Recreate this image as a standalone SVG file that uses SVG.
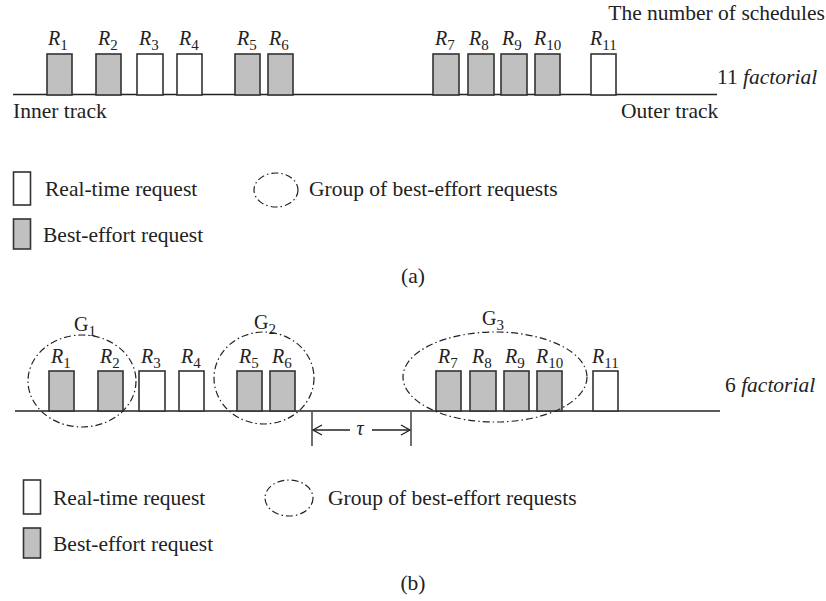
<svg xmlns="http://www.w3.org/2000/svg" width="826" height="601" viewBox="0 0 826 601">
<defs>
<style>
text{font-family:"Liberation Serif","DejaVu Serif",serif;fill:#222;}
.t{font-size:21.5px;}
.rl{font-size:20px;font-style:italic;}
.gl{font-size:20px;}
.sub{font-size:15px;font-style:normal;}
.gb{fill:#c0c0c0;stroke:#333;stroke-width:1.6;}
.wb{fill:#fff;stroke:#333;stroke-width:1.6;}
.trk{stroke:#222;stroke-width:1.6;fill:none;}
.grp{fill:none;stroke:#222;stroke-width:1.2;stroke-dasharray:7 3 1.5 3;}
.ln{stroke:#222;stroke-width:1.3;fill:none;}
</style>
<marker id="ah" markerWidth="12" markerHeight="12" refX="10" refY="6" orient="auto-start-reverse" markerUnits="userSpaceOnUse">
<path d="M1,1 L10,6 L1,11" fill="none" stroke="#222" stroke-width="1.3"/>
</marker>
</defs>
<rect width="826" height="601" fill="#fff"/>

<!-- Panel (a) -->
<g id="a-track"><line class="trk" x1="13" y1="94.5" x2="717" y2="94.5"/></g>
<text class="t" x="825" y="20" text-anchor="end">The number of schedules</text>
<text class="t" x="717" y="84">11 <tspan font-style="italic">factorial</tspan></text>
<text class="t" x="13" y="118">Inner track</text>
<text class="t" x="621" y="118">Outer track</text>

<g id="a-R1"><rect class="gb" x="47" y="54" width="25" height="41"/><text class="rl" x="48" y="45">R<tspan class="sub" dy="5">1</tspan></text></g>
<g id="a-R2"><rect class="gb" x="96" y="54" width="25" height="41"/><text class="rl" x="98" y="45">R<tspan class="sub" dy="5">2</tspan></text></g>
<g id="a-R3"><rect class="wb" x="137" y="54" width="26" height="41"/><text class="rl" x="139" y="45">R<tspan class="sub" dy="5">3</tspan></text></g>
<g id="a-R4"><rect class="wb" x="177" y="54" width="25" height="41"/><text class="rl" x="179" y="45">R<tspan class="sub" dy="5">4</tspan></text></g>
<g id="a-R5"><rect class="gb" x="235" y="54" width="25" height="41"/><text class="rl" x="237" y="45">R<tspan class="sub" dy="5">5</tspan></text></g>
<g id="a-R6"><rect class="gb" x="268" y="54" width="25" height="41"/><text class="rl" x="269" y="45">R<tspan class="sub" dy="5">6</tspan></text></g>
<g id="a-R7"><rect class="gb" x="433" y="54" width="26" height="41"/><text class="rl" x="435" y="45">R<tspan class="sub" dy="5">7</tspan></text></g>
<g id="a-R8"><rect class="gb" x="468" y="54" width="26" height="41"/><text class="rl" x="469" y="45">R<tspan class="sub" dy="5">8</tspan></text></g>
<g id="a-R9"><rect class="gb" x="501" y="54" width="26" height="41"/><text class="rl" x="502" y="45">R<tspan class="sub" dy="5">9</tspan></text></g>
<g id="a-R10"><rect class="gb" x="535" y="54" width="25" height="41"/><text class="rl" x="534" y="45">R<tspan class="sub" dy="5">10</tspan></text></g>
<g id="a-R11"><rect class="wb" x="591" y="54" width="25" height="41"/><text class="rl" x="590" y="45">R<tspan class="sub" dy="5">11</tspan></text></g>

<g id="a-legend">
<rect class="wb" x="13.5" y="172" width="17" height="33" stroke-width="1.3"/>
<text class="t" x="45" y="196">Real-time request</text>
<rect class="gb" x="13.5" y="219" width="17" height="30" stroke-width="1.3"/>
<text class="t" x="43" y="242">Best-effort request</text>
<ellipse class="grp" cx="276" cy="190" rx="22" ry="17"/>
<text class="t" x="309" y="196">Group of best-effort requests</text>
</g>
<text class="t" x="413" y="283" text-anchor="middle">(a)</text>

<!-- Panel (b) -->
<g id="b-track"><line class="trk" x1="15" y1="411" x2="720" y2="411"/></g>
<text class="t" x="725" y="392">6 <tspan font-style="italic">factorial</tspan></text>

<g id="b-R1"><rect class="gb" x="49" y="371" width="25" height="40"/><text class="rl" x="51" y="363">R<tspan class="sub" dy="5">1</tspan></text></g>
<g id="b-R2"><rect class="gb" x="98" y="371" width="25" height="40"/><text class="rl" x="100" y="363">R<tspan class="sub" dy="5">2</tspan></text></g>
<g id="b-R3"><rect class="wb" x="139" y="371" width="26" height="40"/><text class="rl" x="141" y="363">R<tspan class="sub" dy="5">3</tspan></text></g>
<g id="b-R4"><rect class="wb" x="179" y="371" width="25" height="40"/><text class="rl" x="181" y="363">R<tspan class="sub" dy="5">4</tspan></text></g>
<g id="b-R5"><rect class="gb" x="237" y="371" width="25" height="40"/><text class="rl" x="239" y="363">R<tspan class="sub" dy="5">5</tspan></text></g>
<g id="b-R6"><rect class="gb" x="270" y="371" width="25" height="40"/><text class="rl" x="272" y="363">R<tspan class="sub" dy="5">6</tspan></text></g>
<g id="b-R7"><rect class="gb" x="436" y="371" width="25" height="40"/><text class="rl" x="438" y="363">R<tspan class="sub" dy="5">7</tspan></text></g>
<g id="b-R8"><rect class="gb" x="470" y="371" width="26" height="40"/><text class="rl" x="472" y="363">R<tspan class="sub" dy="5">8</tspan></text></g>
<g id="b-R9"><rect class="gb" x="504" y="371" width="25" height="40"/><text class="rl" x="505" y="363">R<tspan class="sub" dy="5">9</tspan></text></g>
<g id="b-R10"><rect class="gb" x="537" y="371" width="25" height="40"/><text class="rl" x="536" y="363">R<tspan class="sub" dy="5">10</tspan></text></g>
<g id="b-R11"><rect class="wb" x="593" y="371" width="25" height="40"/><text class="rl" x="592" y="363">R<tspan class="sub" dy="5">11</tspan></text></g>

<g id="b-G1"><ellipse class="grp" cx="82" cy="381" rx="54" ry="46"/><text class="gl" x="74" y="331">G<tspan class="sub" dy="5">1</tspan></text></g>
<g id="b-G2"><ellipse class="grp" cx="264" cy="378" rx="50" ry="46"/><text class="gl" x="254" y="329">G<tspan class="sub" dy="5">2</tspan></text></g>
<g id="b-G3"><ellipse class="grp" cx="495" cy="377" rx="92" ry="45"/><text class="gl" x="482" y="325">G<tspan class="sub" dy="5">3</tspan></text></g>

<g id="connectors">
<line class="ln" x1="312" y1="412" x2="312" y2="446"/>
<line class="ln" x1="411" y1="412" x2="411" y2="446"/>
<line class="ln" x1="313" y1="430" x2="350" y2="430" marker-start="url(#ah)"/>
<line class="ln" x1="372" y1="430" x2="410" y2="430" marker-end="url(#ah)"/>
<text class="rl" x="360" y="435" text-anchor="middle">τ</text>
</g>

<g id="b-legend">
<rect class="wb" x="23.5" y="480" width="17" height="34" stroke-width="1.3"/>
<text class="t" x="53" y="505">Real-time request</text>
<rect class="gb" x="23.5" y="528" width="17" height="30" stroke-width="1.3"/>
<text class="t" x="53" y="551">Best-effort request</text>
<ellipse class="grp" cx="289" cy="498" rx="24" ry="18"/>
<text class="t" x="328" y="505">Group of best-effort requests</text>
</g>
<text class="t" x="413" y="590" text-anchor="middle">(b)</text>
</svg>
